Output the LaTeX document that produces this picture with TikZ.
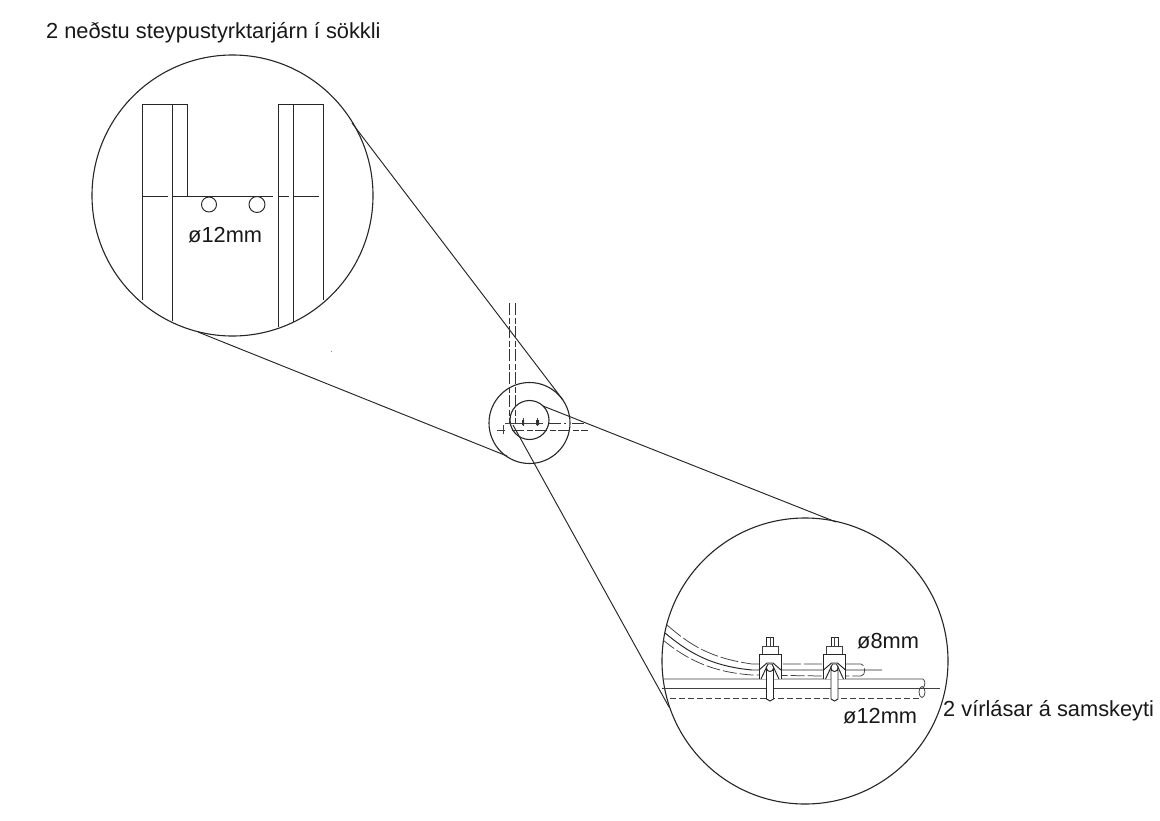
\documentclass[tikz,border=0pt]{standalone}
\usepackage{fontspec}
\setmainfont{Liberation Sans}
\newcommand{\lblfont}{\fontsize{21.8}{24}\selectfont}
\tikzset{
  ln/.style={draw=black!85,line width=0.95pt},
  thn/.style={draw=black!75,line width=0.75pt},
  dsh/.style={draw=black!80,line width=0.9pt,dash pattern=on 12pt off 3pt on 6pt off 2pt},
  lens/.style={circle,draw=black!85,line width=1.1pt,minimum size=0pt,inner sep=0pt},
  lbl/.style={inner sep=0pt,font=\lblfont,text=black!90,anchor=base west}
}
\begin{document}
\begin{tikzpicture}[x=1pt,y=-1pt]
\useasboundingbox (0,0) rectangle (1160,820);
\fill[white] (0,0) rectangle (1160,820);
% lens circles
\node[lens,minimum size=281pt] (big1) at (232.5,195.5) {};
\node[lens,minimum size=286pt] (big2) at (805,661) {};
\node[lens,minimum size=81pt] (mid) at (529.5,423) {};
\node[lens,minimum size=39pt] (small) at (529.5,420) {};
% tangents
\coordinate (t1a) at (352,123); \coordinate (t1b) at (563,400);
\coordinate (t2a) at (198,332); \coordinate (t2b) at (507,456);
\coordinate (t3a) at (543,406); \coordinate (t3b) at (836,522);
\coordinate (t4a) at (513,425); \coordinate (t4b) at (669,707);
\draw[ln] (t1a)--(t1b); \draw[ln] (t2a)--(t2b); \draw[ln] (t3a)--(t3b); \draw[ln] (t4a)--(t4b);
% centre hidden lines
\draw[dsh] (509,303)--(509,424);
\draw[dsh] (515,303)--(515,424);
\draw[dsh] (549,423)--(566,423) (572,423)--(585,423);
\draw[dsh] (512,430)--(588,430);
\draw[thn] (497,430)--(505,430);
\draw[thn] (503,425)--(503,434) (523,418)--(523,426) (537,418)--(537,426) (505,423)--(543,423);
\fill[black!80] (522,420) rectangle (524,425) (536,420) rectangle (539,425);
\fill[black!50] (331,351) rectangle (332,352);
% left detail
\draw[ln] (142,300)--(142,104)--(172,104);
\draw[ln] (172,321)--(172,104)--(187,104)--(187,196);
\draw[ln] (278,327)--(278,104)--(293,104)--(293,322);
\draw[ln] (293,104)--(323,104)--(323,300);
\draw[ln] (142,196)--(168,196) (172,196)--(273,196) (278,196)--(289,196) (293,196)--(319,196);
\draw[ln] (209,204.5) circle (7.5);
\draw[ln] (257,204.5) circle (8);
\node[lbl] (d1) at (188,242) {ø12mm};
% right detail: 12 mm bar
\draw[thn] (664,679)--(923,679) .. controls (926,681) and (925,686) .. (923,688);
\draw[thn] (662,688)--(940,688);
\draw[thn,dash pattern=on 6pt off 3pt] (670,698)--(920,698);
\draw[thn] (922,692) ellipse (3 and 5.5);
% 8 mm bar
\draw[thn,dash pattern=on 18pt off 3pt] (667,625) .. controls (690,645) and (710,658) .. (752,664) -- (861,664) .. controls (866,664) and (866,676) .. (861,676) -- (846,676);
\draw[ln] (665,633) .. controls (688,652) and (710,666) .. (752,670) -- (882,670);
\draw[thn,dash pattern=on 14pt off 3pt] (663,640) .. controls (685,658) and (710,672) .. (752,675) -- (823,676);
% clips
\foreach \n/\cx in {a/770,b/834.5}{
  \coordinate (c\n) at (\cx,654);
  \fill[white] (\cx-11,654) rectangle (\cx+11,679);
  \draw[ln] (\cx-11,679)--(\cx-11,654)--(\cx+11,654)--(\cx+11,679);
  \draw[ln] (\cx-9,679)--(\cx-2,664)--(\cx+2,664)--(\cx+9,679);
  \draw[ln] (\cx-11,670)--(\cx-3,663)--(\cx+3,663)--(\cx+11,670);
  \fill[white] (\cx-3.5,668) rectangle (\cx+3.5,699);
  \draw[ln] (\cx-3.5,699)--(\cx-3.5,668) arc (180:0:3.5) --(\cx+3.5,699) -- (\cx,701) -- cycle;
  \draw[thn] (\cx-8,654)--(\cx-8,646)--(\cx+8,646)--(\cx+8,654);
  \draw[ln] (\cx-3.5,646)--(\cx-3.5,637)--(\cx+3.5,637)--(\cx+3.5,646);
  \draw[thn] (\cx,637)--(\cx,646);
}
\node[lbl] (d2) at (857,648) {ø8mm};
\node[lbl] (d3) at (843,723) {ø12mm};
\node[lbl] (tr) at (943,716) {2 vírlásar á samskeyti};
\node[lbl] (tt) at (46,38) {2 neðstu steypustyrktarjárn í sökkli};
\end{tikzpicture}
\end{document}
